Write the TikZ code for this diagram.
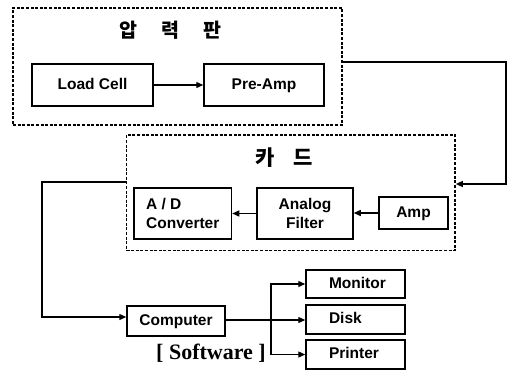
\documentclass[tikz,border=0pt]{standalone}
\usepackage{fontspec}
\setmainfont{Liberation Sans}
\newfontfamily\cjk{Noto Sans CJK KR}
\newfontfamily\lserif{Liberation Serif}
\usetikzlibrary{arrows.meta}
\begin{document}
\begin{tikzpicture}[x=1pt,y=-1pt,
  blk/.style={draw, line width=1.5pt, inner sep=0pt, align=center,
    font=\fontsize{15.5}{19}\selectfont\bfseries},
  one/.style={text height=11.5pt, text depth=3pt},
  grp/.style={draw, line width=1.6pt, dash pattern=on 3pt off 1.6pt, inner sep=0pt},
  conn/.style={line width=1.3pt, -{Triangle[length=7pt,width=6pt]}},
  ttl/.style={font=\cjk\bfseries\fontsize{19.5}{19.5}\selectfont}]
\useasboundingbox (0,0) rectangle (508,370);

% group 1
\node[grp, minimum width=329pt, minimum height=117pt] (g1) at (177.5,66.5) {};
\node[ttl] (t1) at (170.5,30) {\spaceskip=24pt 압 력 판};
\node[blk, one, minimum width=121pt, minimum height=42pt] (lc) at (92.5,85) {Load Cell};
\node[blk, one, minimum width=120pt, minimum height=42pt] (pa) at (264,85) {Pre-Amp};
\draw[conn] (lc.east) -- (pa.west);

% group 2
\node[grp, minimum width=328.5pt, minimum height=115.5pt] (g2) at (290.75,192.75) {};
\node[ttl, font=\cjk\bfseries\fontsize{21}{21}\selectfont] (t2) at (284,158) {\spaceskip=19pt 카 드};
\node[blk, align=left, minimum width=97.5pt, minimum height=51pt] (ad) at (182.75,213.5) {A / D\\Converter};
\node[blk, minimum width=96pt, minimum height=51pt] (af) at (305,213.5) {Analog\\Filter};
\node[blk, one, minimum width=69pt, minimum height=32pt] (amp) at (413.5,213) {Amp};
\draw[conn] (amp.west) -- (amp.west -| af.east);
\draw[conn] (af.west) -- (af.west -| ad.east);

% connectors between groups
\coordinate (rc) at (506,184);
\draw[conn] ([yshift=4.5pt]g1.east) -| (rc) -- (rc -| g2.east);
\coordinate (lcn) at (42,182);
\node[blk, one, minimum width=98pt, minimum height=30pt] (comp) at (176,321) {Computer};
\draw[conn] ([yshift=10.75pt]g2.west) -- (lcn) |- ([yshift=4pt]comp.west);

% outputs
\node[blk, one, align=left, text width=53pt, minimum width=99pt, minimum height=28pt] (mon) at (355.5,284) {Monitor};
\node[blk, one, align=left, text width=53pt, minimum width=99pt, minimum height=29pt] (disk) at (355.5,319.5) {Disk};
\node[blk, one, align=left, text width=53pt, minimum width=99pt, minimum height=29pt] (prn) at (355.5,354.5) {Printer};
\coordinate (bx) at (271,320);
\draw[conn] ([yshift=1pt]comp.east) -- (bx -| disk.west);
\draw[conn] (bx) |- (mon.west);
\draw[conn] (bx) |- (prn.west);

\node[font=\lserif\bfseries\fontsize{22}{22}\selectfont] (sw) at (211,353) {[ Software ]};
\end{tikzpicture}
\end{document}
